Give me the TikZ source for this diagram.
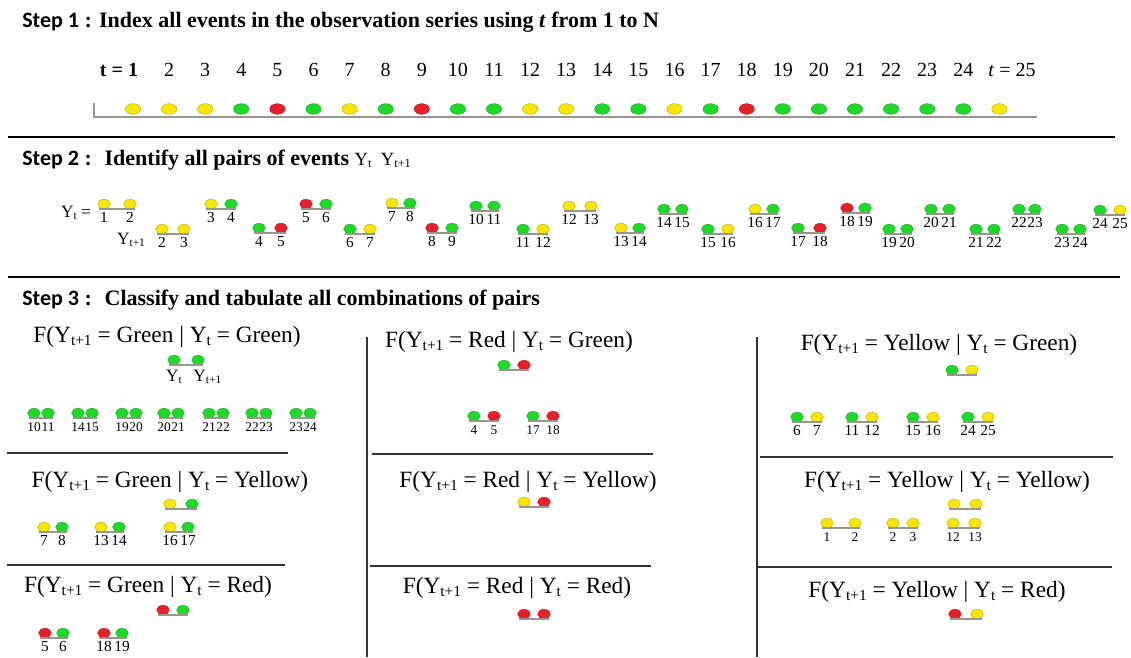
\documentclass[tikz,border=0pt]{standalone}
\usepackage{fontspec}
\setmainfont{Liberation Serif}
\newfontfamily\stepfont{Carlito}
\usepackage{tikz}
\usetikzlibrary{shapes.geometric,positioning}
\definecolor{dotY}{RGB}{248,230,0}
\definecolor{dotG}{RGB}{30,218,40}
\definecolor{dotR}{RGB}{232,30,40}
\definecolor{baseC}{RGB}{150,150,140}
\tikzset{
  steptitle/.style={anchor=west, inner sep=0pt, font=\fontsize{16.5}{19}\selectfont\bfseries},
  tlab/.style={inner sep=0pt, font=\fontsize{15}{17}\selectfont},
  ftitle/.style={inner sep=0pt, font=\fontsize{17.5}{20}\selectfont},
  numlab/.style={inner sep=0pt, text height=1.6ex, text depth=0pt, font=\fontsize{10}{12}\selectfont},
  pairnum/.style={numlab, font=\fontsize{11.5}{13}\selectfont},
  ylab/.style={inner sep=0pt, font=\fontsize{13}{15}\selectfont},
  dot/.style={ellipse, inner sep=0pt, minimum width=9.5pt, minimum height=7pt,
              fill=#1, draw=#1!75!black, line width=0.3pt},
  bigdot/.style={dot=#1, minimum width=11.5pt, minimum height=8pt},
  base/.style={draw=baseC, line width=1.1pt},
  sepline/.style={line width=1.6pt},
  cellline/.style={line width=0.8pt, black!80},
}
\newcommand{\lo}[1]{\raisebox{-0.25ex}{\scalebox{0.66}{#1}}}
\newcommand{\ftxt}[2]{F(Y\lo{t+1} = #1 | Y\lo{t} = #2)}
% name, centre x, y, colour a, colour b, half gap
\newcommand{\dotpair}[6]{%
  \node[dot=#4] (#1a) at ({#2-#6},#3) {};
  \node[dot=#5] (#1b) at ({#2+#6},#3) {};
  \draw[base] ([xshift=-4pt]#1a.south) -- ([xshift=4pt]#1b.south);
}
% name, label a, label b, style
\newcommand{\pairlab}[4][numlab]{%
  \node[#1, below=3pt of #2a] (#2la) {#3};
  \node[#1, below=3pt of #2b] (#2lb) {#4};
}

\begin{document}
\begin{tikzpicture}[x=0.75pt,y=-0.75pt]
  \useasboundingbox (0,0) rectangle (1131,657);

  % Step 1
  \node[steptitle] (st1) at (22,22)
    {{\stepfont Step 1} : Index all events in the observation series using \textit{t} from 1 to N};
  \draw[base, line width=1.6pt] (94,103) -- (94,117) -- (1037,117);
  \foreach \c [count=\i] in {Y,Y,Y,G,R,G,Y,G,R,G,G,Y,Y,G,G,Y,G,R,G,G,G,G,G,G,Y}
    \node[bigdot=dot\c] (e\i) at ({133+36.1*(\i-1)},109) {};
  \node[tlab] (tl1) at (119,70) {\textbf{t = 1}};
  \foreach \i in {2,...,24}
    \node[tlab] (tl\i) at (e\i |- tl1) {\i};
  \node[tlab] (tl25) at (1012,70) {\textit{t} = 25};

  \draw[sepline] (8,137) -- (1115,137);

  % Step 2
  \node[steptitle] (st2) at (22,160)
    {{\stepfont Step 2} : ~Identify all pairs of events {\mdseries\fontsize{14}{16}\selectfont Y\lo{t}~~Y\lo{t+1}}};
  \node[ylab] (yt) at (76,213) {Y\lo{t} =};
  \node[ylab] (yt1) at (131,240) {Y\lo{t+1}};
  \foreach \x/\y/\g/\ca/\cb/\la/\lb [count=\k] in {
      117/204/13/Y/Y/1/2, 173/229/11/Y/Y/2/3, 221/204/10/Y/G/3/4,
      270/228/11/G/R/4/5, 316/204/10/R/G/5/6, 360/229/10/G/Y/6/7,
      401/203/9/Y/G/7/8, 442/228/10/R/G/8/9, 485/206/9/G/G/10/11,
      533/229/10/G/Y/11/12, 580/206/11/Y/Y/12/13, 630/228/9/Y/G/13/14,
      673/209/9/G/G/14/15, 718/229/10/G/Y/15/16, 764/209/9/Y/G/16/17,
      809/228/11/G/R/17/18, 856/208/9/R/G/18/19, 898/229/9/G/G/19/20,
      940/209/9/G/G/20/21, 985/229/9/G/G/21/22, 1027/209/8/G/G/22/23,
      1071/229/9/G/G/23/24, 1110/210/10/G/Y/24/25}{
    \dotpair{p\k}{\x}{\y}{dot\ca}{dot\cb}{\g}
    \pairlab[pairnum]{p\k}{\la}{\lb}
  }

  \draw[sepline] (8,277) -- (1120,277);

  % Step 3
  \node[steptitle] (st3) at (22,300)
    {{\stepfont Step 3} : ~Classify and tabulate all combinations of pairs};
  \draw[cellline] (367,337) -- (367,657);
  \draw[cellline] (757,337) -- (757,657);
  \draw[cellline] (7,453) -- (288,453);
  \draw[cellline] (7,565) -- (285,565);
  \draw[cellline] (372,454) -- (653,454);
  \draw[cellline] (370,566) -- (651,566);
  \draw[cellline] (760,457) -- (1113,457);
  \draw[cellline] (757,567) -- (1112,567);

  % green after green
  \node[ftitle] (fgg) at (167,337) {\ftxt{Green}{Green}};
  \dotpair{xgg}{186}{360}{dotG}{dotG}{12}
  \node[ylab, below=4pt of xgga] (xggla) {Y\lo{t}};
  \node[ylab, below=4pt of xggb, xshift=7pt] (xgglb) {Y\lo{t+1}};
  \foreach \x/\la/\lb [count=\k] in {41/10/11, 85/14/15, 129/19/20, 171/20/21,
      216/21/22, 259/22/23, 303/23/24}{
    \dotpair{gg\k}{\x}{413}{dotG}{dotG}{7}
    \pairlab{gg\k}{\la}{\lb}
  }

  % green after yellow
  \node[ftitle] (fyg) at (170,482) {\ftxt{Green}{Yellow}};
  \dotpair{xyg}{181}{504}{dotY}{dotG}{11}
  \foreach \x/\la/\lb [count=\k] in {53/7/8, 110/13/14, 179/16/17}{
    \dotpair{yg\k}{\x}{527}{dotY}{dotG}{9}
    \pairlab[pairnum]{yg\k}{\la}{\lb}
  }

  % green after red
  \node[ftitle] (frg) at (148,587) {\ftxt{Green}{Red}};
  \dotpair{xrg}{173}{610}{dotR}{dotG}{10}
  \foreach \x/\la/\lb [count=\k] in {54/5/6, 113/18/19}{
    \dotpair{rg\k}{\x}{633}{dotR}{dotG}{9}
    \pairlab[pairnum]{rg\k}{\la}{\lb}
  }

  % red after green
  \node[ftitle] (fgr) at (509,342) {\ftxt{Red}{Green}};
  \dotpair{xgr}{514}{365}{dotG}{dotR}{10}
  \foreach \x/\la/\lb [count=\k] in {484/4/5, 543/17/18}{
    \dotpair{gr\k}{\x}{416}{dotG}{dotR}{10}
    \pairlab{gr\k}{\la}{\lb}
  }

  % red after yellow, red after red
  \node[ftitle] (fyr) at (528,482) {\ftxt{Red}{Yellow}};
  \dotpair{xyr}{534}{502}{dotY}{dotR}{10}
  \node[ftitle] (frr) at (517,588) {\ftxt{Red}{Red}};
  \dotpair{xrr}{534}{614}{dotR}{dotR}{10}

  % yellow after green
  \node[ftitle] (fgy) at (939,345) {\ftxt{Yellow}{Green}};
  \dotpair{xgy}{962}{370}{dotG}{dotY}{10}
  \foreach \x/\la/\lb [count=\k] in {807/6/7, 862/11/12, 923/15/16, 978/24/25}{
    \dotpair{gy\k}{\x}{417}{dotG}{dotY}{10}
    \pairlab[pairnum]{gy\k}{\la}{\lb}
  }

  % yellow after yellow
  \node[ftitle] (fyy) at (947,482) {\ftxt{Yellow}{Yellow}};
  \dotpair{xyy}{965}{504}{dotY}{dotY}{11}
  \foreach \x/\g/\la/\lb [count=\k] in {841/14/1/2, 903/10/2/3, 964/11/12/13}{
    \dotpair{yy\k}{\x}{523}{dotY}{dotY}{\g}
    \pairlab{yy\k}{\la}{\lb}
  }

  % yellow after red
  \node[ftitle] (fry) at (937,592) {\ftxt{Yellow}{Red}};
  \dotpair{xry}{966}{614}{dotR}{dotY}{11}
\end{tikzpicture}
\end{document}
